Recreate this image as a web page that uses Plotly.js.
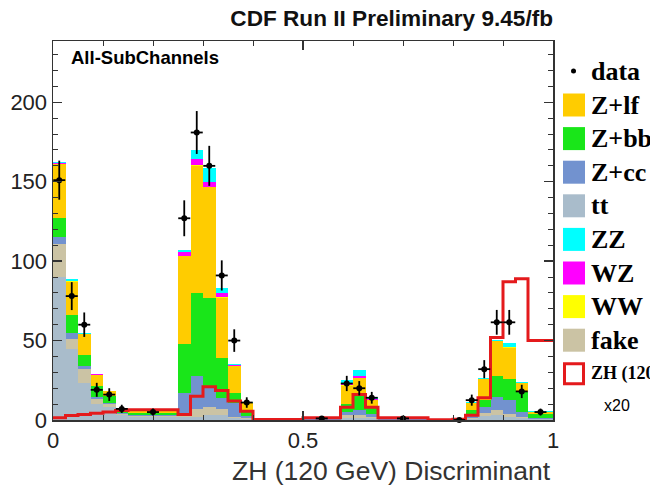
<!DOCTYPE html>
<html><head><meta charset="utf-8">
<script src="https://cdn.plot.ly/plotly-3.0.1.min.js"></script>
<style>html,body{margin:0;padding:0;background:#fff}#chart{width:650px;height:491px}</style>
</head><body><div id="chart"></div>
<script>
// ---- data ----
const binEdges = [0, 0.025, 0.05, 0.075, 0.1, 0.125, 0.15, 0.25, 0.275, 0.3, 0.325, 0.35, 0.375, 0.4, 0.5, 0.575, 0.6, 0.625, 0.65, 0.75, 0.8, 0.825, 0.85, 0.875, 0.9, 0.925, 0.95, 1.0];
const ttbar = [90, 45, 23, 10, 8, 3, 2, 2, 2, 3, 3, 1, 0.5, 0.1, 0.3, 1.5, 1.5, 1, 0.3, 0.1, 0.2, 0.8, 2.3, 3, 2, 1, 0.5];
const fake  = [21, 6, 9, 3, 2, 1, 0.5, 2, 5, 5, 4, 1, 0.5, 0, 0, 1.5, 1.5, 1, 0, 0, 0, 0.7, 2, 3, 2, 1, 0.3];
const zcc   = [4, 4, 2, 1.5, 1, 0.5, 0.5, 13, 21, 12.5, 7, 9, 1.5, 0, 0.2, 2, 3, 2, 0.2, 0, 0.1, 1.5, 3.7, 8.4, 8.3, 3, 0.5];
const zbb   = [12, 11, 7, 7, 4, 1.5, 1.5, 31, 52, 56, 25, 5.7, 4, 0.1, 0.5, 5, 9.5, 5, 0.5, 0.1, 0.2, 3, 4.3, 13.6, 13.7, 12.5, 2.5];
const zlf   = [34, 21, 13, 7, 3, 1.5, 1, 55, 80, 70, 38, 17.5, 4, 0.1, 0.2, 11.7, 11, 3.5, 0.2, 0, 0, 5, 13.5, 21.5, 19.5, 5.5, 1.5];
const ww    = [0.3, 0.2, 0.1, 0.1, 0.1, 0, 0, 0.3, 0.4, 0.4, 0.2, 0.1, 0, 0, 0, 0.1, 0.1, 0.1, 0, 0, 0, 0, 0.1, 0.2, 0.2, 0.1, 0];
const wz    = [0.3, 0.3, 0.2, 0.1, 0.1, 0, 0, 2.5, 4, 3, 2.7, 0.3, 0.2, 0, 0, 1.3, 1, 0.5, 0, 0, 0, 0, 0.2, 0.3, 0.5, 0.2, 0];
const zz    = [1, 1, 0.5, 0.5, 0.3, 0.2, 0.1, 1.5, 5.5, 9, 3, 0.8, 0.5, 0, 0, 2, 4, 1.5, 0, 0, 0, 0.2, 0.5, 0.5, 2, 0.7, 0.2];
const zhX20 = [1.4, 2.8, 3.5, 4.3, 5, 6, 6.4, 3.5, 15, 21, 18.5, 12, 5.5, 0.3, 1.4, 8, 16, 8, 1.4, 0.1, 0.5, 3, 14, 52, 87, 89, 50];
const dataCounts = [151, 78, 60, 19, 16, 7, 5, 127, 181, 160, 91, 50, 11, null, 1, 23, 20, 14, 1, null, 0, 12.5, 32, 61.5, 61.5, 18, 5];
const dataErrors = [12.3, 8.8, 7.7, 4.4, 4, 2.6, 2.2, 11.3, 13.5, 12.6, 9.5, 7.1, 3.3, 0, 1, 4.8, 4.5, 3.7, 1, 0, 1, 3.5, 5.7, 7.8, 7.8, 4.2, 2.2];
const xTickVals = [0, 0.5, 1];
const xTickText = ['0', '0.5', '1'];
const yTickVals = [0, 50, 100, 150, 200];
const yTickText = ['0', '50', '100', '150', '200'];
const legendNames = ['Z+lf', 'Z+bb', 'Z+cc', 'tt', 'ZZ', 'WZ', 'WW', 'fake'];

// ---- styles ----
const colors = {
  zlf: '#ffcc00', zbb: '#19e619', zcc: '#7292cf', tt: '#a9bccb',
  zz: '#00ffff', wz: '#ff00ff', ww: '#ffff00', fake: '#cbc3a4', zh: '#e41a1c'
};

const centers = binEdges.slice(0, -1).map((e, i) => (e + binEdges[i + 1]) / 2);
const widths = binEdges.slice(0, -1).map((e, i) => binEdges[i + 1] - e);

function barTrace(name, vals, color) {
  return {type: 'bar', name: name, x: centers, y: vals, width: widths,
    marker: {color: color, line: {width: 0}}, showlegend: false, hoverinfo: 'name+y'};
}

const traces = [
  barTrace('tt', ttbar, colors.tt),
  barTrace('fake', fake, colors.fake),
  barTrace('Z+cc', zcc, colors.zcc),
  barTrace('Z+bb', zbb, colors.zbb),
  barTrace('Z+lf', zlf, colors.zlf),
  barTrace('WW', ww, colors.ww),
  barTrace('WZ', wz, colors.wz),
  barTrace('ZZ', zz, colors.zz),
  {type: 'scatter', mode: 'lines', name: 'ZH (120 GeV) x20', x: binEdges,
   y: zhX20.concat([zhX20[zhX20.length - 1]]),
   line: {shape: 'hv', color: colors.zh, width: 3}, showlegend: false},
  {type: 'scatter', mode: 'markers', name: 'data', x: centers, y: dataCounts,
   marker: {color: '#000', size: 6}, cliponaxis: false,
   error_y: {type: 'data', array: dataErrors, visible: true, color: '#000', thickness: 1.8, width: 0},
   error_x: {type: 'constant', value: 0.012, visible: true, color: '#000', thickness: 1.8, width: 0},
   showlegend: false}
];

// plot frame in pixels
const L = 53, R = 553, T = 41, B = 420;
const px = x => (x - L) / (R - L);
const py = y => (B - y) / (B - T);

const shapes = [];
const annotations = [];
const legendColors = [colors.zlf, colors.zbb, colors.zcc, colors.tt, colors.zz, colors.wz, colors.ww, colors.fake];
const rowY0 = 105, rowStep = 33.6;
// data entry
shapes.push({type: 'circle', xref: 'paper', yref: 'paper', x0: px(571), x1: px(576), y0: py(73.5), y1: py(68.5),
  fillcolor: '#000', line: {width: 0}});
annotations.push({xref: 'paper', yref: 'paper', x: px(589), y: py(71), xanchor: 'left', yanchor: 'middle',
  text: 'data', showarrow: false, font: {family: 'Liberation Serif', size: 26, color: '#000', weight: 'bold'}});
legendNames.forEach((n, i) => {
  const cy = rowY0 + i * rowStep;
  shapes.push({type: 'rect', xref: 'paper', yref: 'paper', x0: px(563), x1: px(585), y0: py(cy + 11.5), y1: py(cy - 11.5),
    fillcolor: legendColors[i], line: {width: 0}});
  annotations.push({xref: 'paper', yref: 'paper', x: px(589), y: py(cy), xanchor: 'left', yanchor: 'middle',
    text: n, showarrow: false, font: {family: 'Liberation Serif', size: 26, color: '#000', weight: 'bold'}});
});
const zhY = rowY0 + 8 * rowStep;
shapes.push({type: 'rect', xref: 'paper', yref: 'paper', x0: px(564.5), x1: px(583.5), y0: py(zhY + 10), y1: py(zhY - 10),
  fillcolor: '#fff', line: {color: colors.zh, width: 3}});
annotations.push({xref: 'paper', yref: 'paper', x: px(589), y: py(zhY), xanchor: 'left', yanchor: 'middle',
  text: 'ZH (120 GeV)', showarrow: false, font: {family: 'Liberation Serif', size: 18, color: '#000', weight: 'bold'}});
annotations.push({xref: 'paper', yref: 'paper', x: px(602), y: py(zhY + 32), xanchor: 'left', yanchor: 'middle',
  text: 'x20', showarrow: false, font: {family: 'Liberation Sans', size: 16, color: '#000'}});
// in-plot label
annotations.push({xref: 'paper', yref: 'paper', x: px(69), y: py(57), xanchor: 'left', yanchor: 'middle',
  text: 'All-SubChannels', showarrow: false, font: {family: 'Liberation Sans', size: 18.5, color: '#000', weight: 'bold'}});
// x-axis title (right aligned as in reference)
annotations.push({xref: 'paper', yref: 'paper', x: 1, y: py(471), xanchor: 'right', yanchor: 'middle',
  text: 'ZH (120 GeV) Discriminant', showarrow: false, font: {family: 'Liberation Sans', size: 26.5, color: '#333'}});

const layout = {
  width: 650, height: 491,
  margin: {l: 53, r: 97, t: 41, b: 71, pad: 0},
  paper_bgcolor: '#fff', plot_bgcolor: '#fff',
  barmode: 'stack', bargap: 0,
  showlegend: false,
  title: {text: 'CDF Run II Preliminary 9.45/fb', x: 1, xref: 'paper', xanchor: 'right',
    y: 1 - 18 / 491, yref: 'container', yanchor: 'middle',
    font: {family: 'Liberation Sans', size: 22.6, color: '#111', weight: 'bold'}},
  xaxis: {range: [0, 1], tickvals: xTickVals, ticktext: xTickText, ticks: 'inside', ticklen: 9, tickwidth: 1.5,
    tickcolor: '#333', showline: true, linecolor: '#333', linewidth: 1.5, mirror: 'allticks',
    showgrid: false, zeroline: false,
    minor: {dtick: 0.1, tick0: 0, ticks: 'inside', ticklen: 5, tickwidth: 1, tickcolor: '#333', showgrid: false},
    tickfont: {family: 'Liberation Sans', size: 22, color: '#222'}},
  yaxis: {range: [0, 238.6], tickvals: yTickVals, ticktext: yTickText, ticks: 'inside', ticklen: 9, tickwidth: 1.5,
    tickcolor: '#333', showline: true, linecolor: '#333', linewidth: 1.5, mirror: 'allticks',
    showgrid: false, zeroline: false,
    minor: {dtick: 10, tick0: 0, ticks: 'inside', ticklen: 5, tickwidth: 1, tickcolor: '#333', showgrid: false},
    tickfont: {family: 'Liberation Sans', size: 22, color: '#222'}},
  shapes: shapes,
  annotations: annotations
};

Plotly.newPlot('chart', traces, layout, {displayModeBar: false, staticPlot: true});
</script>
</body></html>
